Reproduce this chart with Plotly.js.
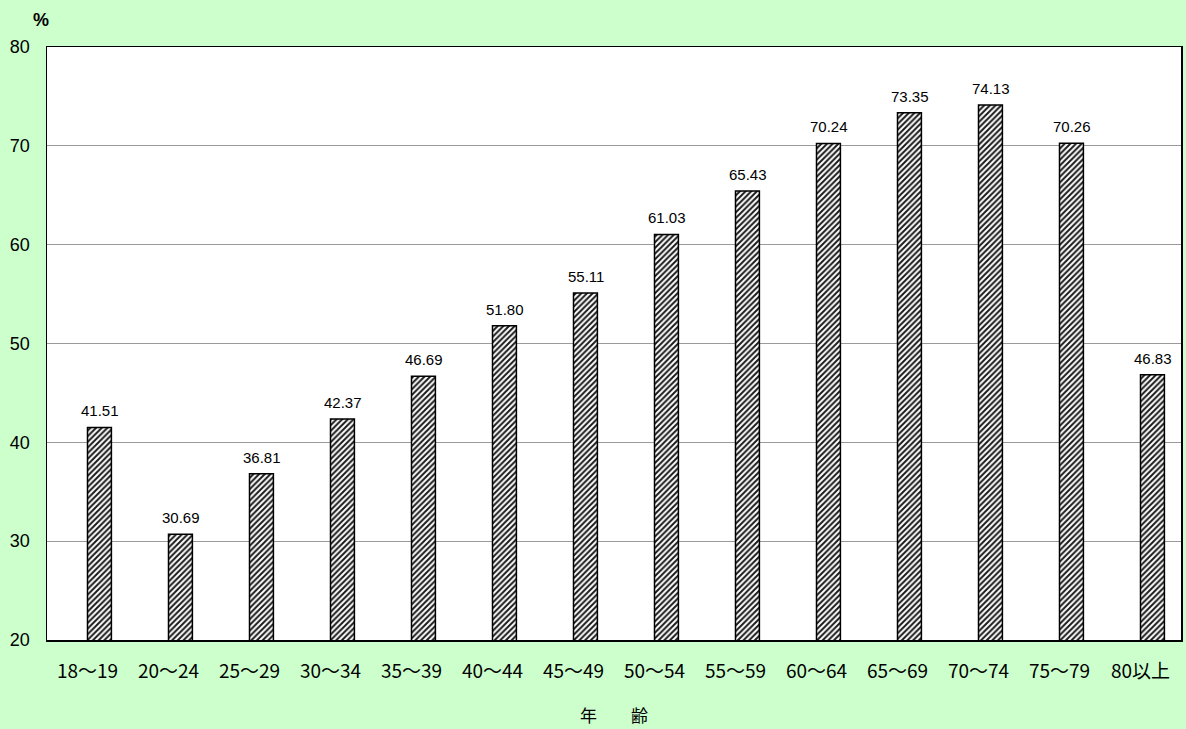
<!DOCTYPE html>
<html>
<head>
<meta charset="utf-8">
<script src="https://cdn.plot.ly/plotly-3.0.1.min.js"></script>
<style>
  html, body { margin: 0; padding: 0; background: #CCFFCC; }
  #chart { width: 1186px; height: 729px; }
</style>
</head>
<body>
<div id="chart"></div>
<script>
const categories = ['18～19','20～24','25～29','30～34','35～39','40～44','45～49','50～54','55～59','60～64','65～69','70～74','75～79','80以上'];
const values = [41.51, 30.69, 36.81, 42.37, 46.69, 51.80, 55.11, 61.03, 65.43, 70.24, 73.35, 74.13, 70.26, 46.83];
const yTicks = [20, 30, 40, 50, 60, 70, 80];

const fontFam = '"Liberation Sans", Arial, "Noto Sans CJK JP", sans-serif';
const cjkFam = '"Noto Sans CJK JP", "Liberation Sans", sans-serif';

const BAR_W = 0.295;

const trace = {
  type: 'bar',
  x: categories,
  y: values,
  width: BAR_W,
  offset: 0.0,
  marker: {
    color: '#ffffff',
    line: { color: '#000000', width: 1.5 },
    pattern: { shape: '/', fgcolor: '#1a1a1a', bgcolor: '#ffffff', size: 4, solidity: 0.5 }
  },
  hoverinfo: 'x+y'
};

// value labels, positioned through the axes from the data arrays
const labelAnnotations = categories.map((c, i) => ({
  x: c, y: values[i], xref: 'x', yref: 'y',
  xshift: 12,
  text: values[i].toFixed(2),
  showarrow: false, xanchor: 'center', yanchor: 'bottom', yshift: 6,
  font: { family: fontFam, size: 15, color: '#000000' }
}));

const layout = {
  width: 1186,
  height: 729,
  paper_bgcolor: '#CCFFCC',
  plot_bgcolor: '#FFFFFF',
  margin: { l: 47, r: 5, t: 47, b: 89 },
  showlegend: false,
  font: { family: fontFam, size: 16, color: '#000000' },
  xaxis: {
    type: 'category',
    showline: true, linecolor: '#000000', linewidth: 1.5, mirror: true,
    ticks: '',
    ticklabelstandoff: 14,
    tickfont: { family: cjkFam, size: 19, color: '#000000' },
    title: { text: '年　　齢', standoff: 28, font: { family: cjkFam, size: 17, color: '#000000' } }
  },
  yaxis: {
    range: [20, 80],
    tickvals: yTicks,
    showline: true, linecolor: '#000000', linewidth: 1.5, mirror: true,
    showgrid: true, gridcolor: '#9a9a9a', gridwidth: 1,
    zeroline: false,
    ticks: '',
    ticklabelstandoff: 12,
    tickfont: { family: fontFam, size: 18, color: '#000000' }
  },
  annotations: [{
    text: '<b>%</b>', xref: 'paper', yref: 'paper', x: -0.0053, y: 1.0, yshift: 27,
    xanchor: 'center', yanchor: 'middle', showarrow: false,
    font: { family: fontFam, size: 18, color: '#000000' }
  }].concat(labelAnnotations)
};

Plotly.newPlot('chart', [trace], layout, { displayModeBar: false, staticPlot: true });
</script>
</body>
</html>
